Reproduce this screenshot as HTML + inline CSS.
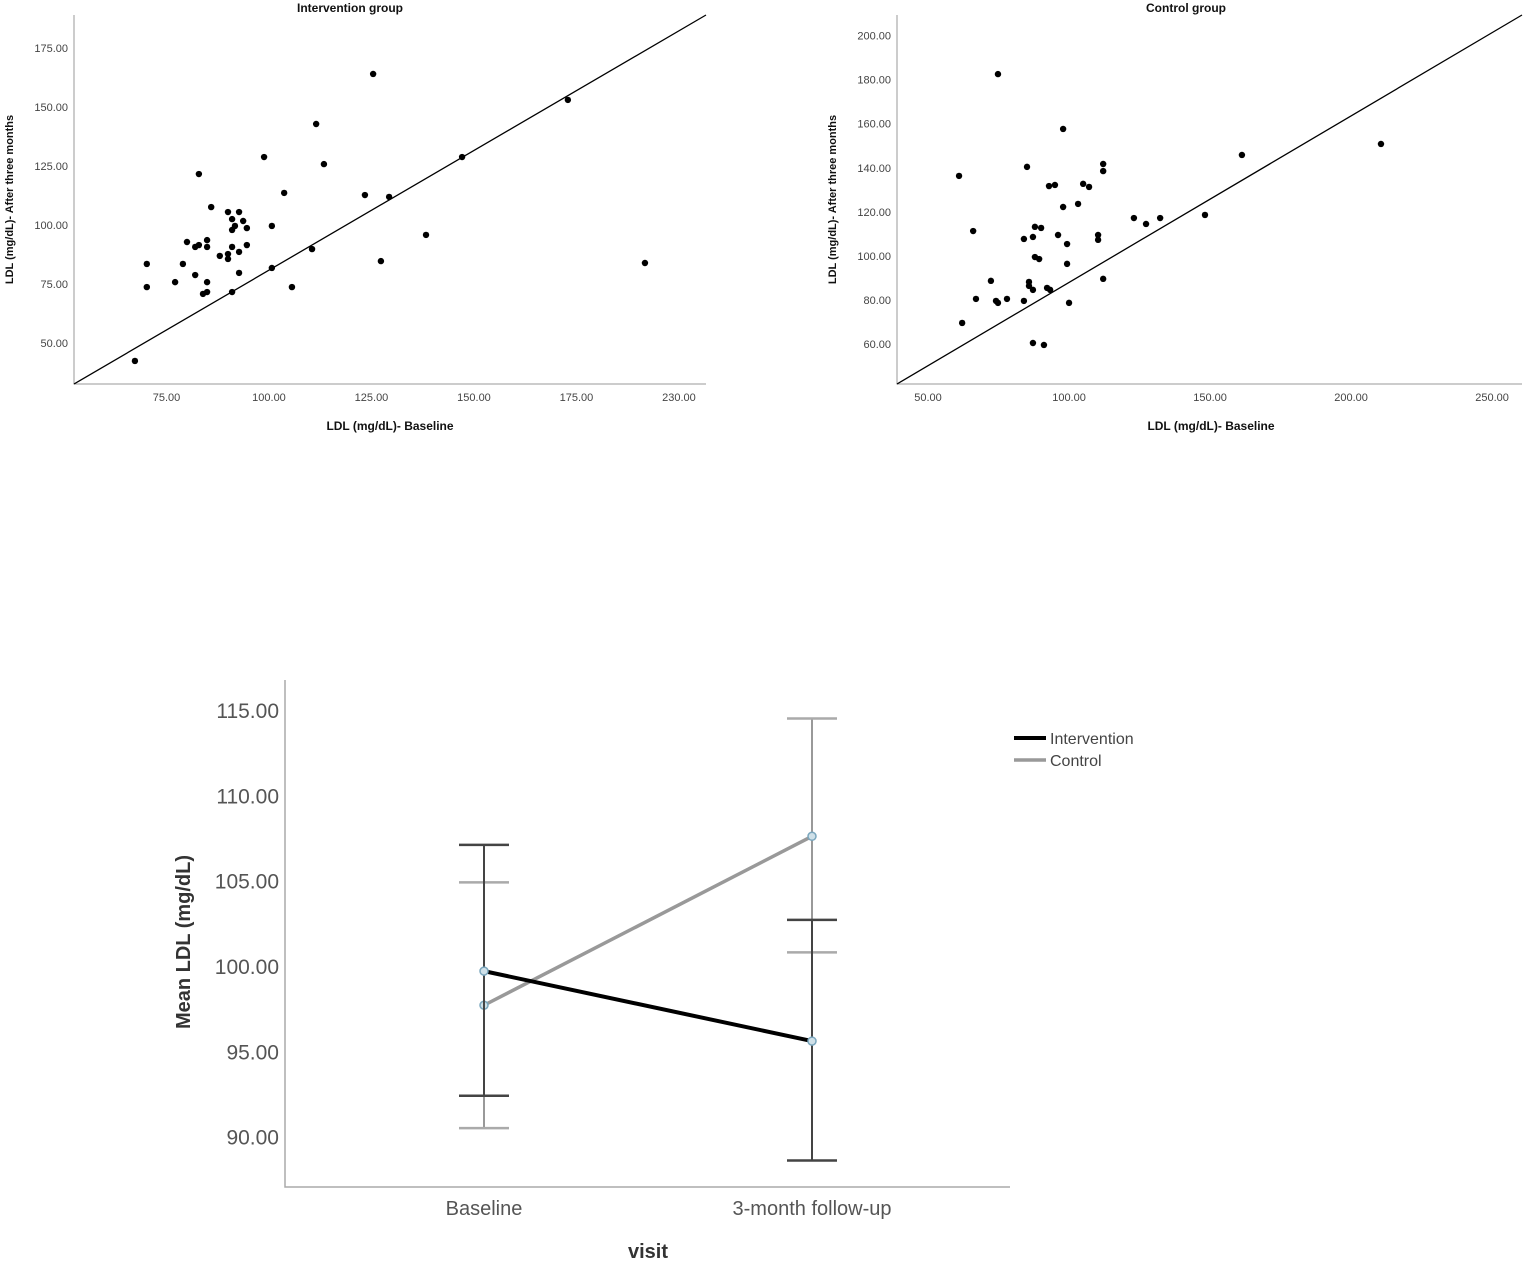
<!DOCTYPE html>
<html><head><meta charset="utf-8">
<style>
html,body{margin:0;padding:0;background:#fff;}
svg{display:block;font-family:"Liberation Sans",Arial,sans-serif;}
</style></head>
<body>
<svg id="chart" width="1535" height="1266" viewBox="0 0 1535 1266" xmlns="http://www.w3.org/2000/svg"></svg>
<script>
// ---------- Data ----------
const intBaseline = [70.2,70.2,77.1,79.0,80.0,82.0,82.9,84.9,84.9,82.9,85.9,82.0,83.9,84.9,84.9,88.0,90.0,90.0,90.0,91.0,91.7,91.0,92.7,93.7,94.6,91.0,92.7,94.6,92.7,91.0,100.7,98.8,100.7,103.7,105.6,110.5,111.5,113.4,125.4,123.4,129.3,127.3,138.3,147.1,67.3,172.9,191.7];
const intAfter    = [83.5,73.7,75.8,83.5,92.8,90.7,91.5,93.6,90.7,121.6,107.6,78.8,70.8,71.6,75.8,86.9,87.7,85.6,105.5,102.5,99.6,97.9,105.5,101.7,98.7,90.7,88.6,91.5,79.7,71.6,99.6,128.8,81.8,113.6,73.7,89.8,142.8,125.8,164.0,112.7,111.9,84.7,95.8,128.8,42.4,153.0,83.9];
const ctlBaseline = [74.8,97.9,61.0,85.1,112.1,112.1,92.9,95.0,105.0,107.1,97.9,103.2,123.0,127.3,132.3,148.2,66.0,87.9,90.1,84.0,87.2,96.1,99.3,110.3,110.3,87.9,89.4,99.3,112.1,72.3,85.8,85.8,87.2,92.2,93.3,67.0,74.1,74.8,78.0,84.0,100.0,62.1,87.2,91.1,161.3,210.6];
const ctlAfter    = [182.5,157.6,136.3,140.4,141.7,138.5,131.7,132.2,132.7,131.3,122.2,123.6,117.2,114.5,117.2,118.6,111.3,113.2,112.7,107.7,108.6,109.5,105.4,109.5,107.3,99.5,98.6,96.4,89.6,88.7,88.2,86.4,84.6,85.5,84.6,80.5,79.6,78.7,80.5,79.6,78.7,69.6,60.5,59.6,145.8,150.8];
const intTicksX = [75,100,125,150,175,200];
const intTickLabelsX = ["75.00","100.00","125.00","150.00","175.00","230.00"];
const intTicksY = [50,75,100,125,150,175];
const ctlTicksX = [50,100,150,200,250];
const ctlTicksY = [60,80,100,120,140,160,180,200];
const visits = ["Baseline","3-month follow-up"];
const intMeans = [99.7,95.6];
const intLow = [92.4,88.6];
const intHigh = [107.1,102.7];
const ctlMeans = [97.7,107.6];
const ctlLow = [90.5,100.8];
const ctlHigh = [104.9,114.5];
const meanTicks = [90,95,100,105,110,115];

const svg = document.getElementById('chart');
const NS = 'http://www.w3.org/2000/svg';
function el(tag, attrs, parent){
  const e = document.createElementNS(NS, tag);
  for (const k in attrs) e.setAttribute(k, attrs[k]);
  (parent||svg).appendChild(e);
  return e;
}
function txt(s, attrs, parent){ const t = el('text', attrs, parent); t.textContent = s; return t; }
function lin(d0,d1,r0,r1){ return v => r0 + (v-d0)*(r1-r0)/(d1-d0); }

function scatter(cfg){
  const g = el('g', {});
  
  
  const xs = lin(cfg.xd[0], cfg.xd[1], cfg.L, cfg.R);
  const ys = lin(cfg.yd[0], cfg.yd[1], cfg.B, cfg.T);
  const ax = el('path', {d:`M${cfg.L},${cfg.T} V${cfg.B} H${cfg.R}`, fill:'none', stroke:'#999', 'stroke-width':1}, g);
  
  
  cfg.ty.forEach(v => {
    const t = txt(v.toFixed(2), {x:cfg.L-6, y:ys(v)+4, 'text-anchor':'end', 'font-size':11, fill:'#444'}, g);
    
    
  });
  cfg.tx.forEach((v,i) => {
    const t = txt(cfg.txl ? cfg.txl[i] : v.toFixed(2), {x:xs(v), y:cfg.B+17, 'text-anchor':'middle', 'font-size':11, fill:'#444'}, g);
    
    
  });
  const ref = el('line', {x1:cfg.L, y1:cfg.B, x2:cfg.R, y2:cfg.T, stroke:'#000', 'stroke-width':1.3}, g);
  
  
  cfg.xv.forEach((v,i) => {
    const c = el('circle', {cx:xs(v), cy:ys(cfg.yv[i]), r:3.2, fill:'#000'}, g);
    
    
  });
  const ti = txt(cfg.title, {x:cfg.titleX, y:12, 'text-anchor':'middle', 'font-size':12, 'font-weight':'bold', fill:'#111'}, g);
  
  
  const xt = txt('LDL (mg/dL)- Baseline', {x:cfg.xtX, y:430, 'text-anchor':'middle', 'font-size':12, 'font-weight':'bold', fill:'#111'}, g);
  
  
  const yt = txt('LDL (mg/dL)- After three months', {x:0, y:0, 'text-anchor':'middle', 'font-size':11, 'font-weight':'bold', fill:'#111', transform:`translate(${cfg.ytX},${(cfg.T+cfg.B)/2}) rotate(-90)`}, g);
  
  
}

scatter({name:'intervention-scatter', L:74, R:706, T:15, B:384, xd:[100,125], yd:[100,125],
  title:'Intervention group', titleX:350, xtX:390, ytX:13,
  tx:intTicksX, txl:intTickLabelsX, ty:intTicksY, xv:intBaseline, yv:intAfter});
// fix scales via explicit mapping domain (px-based calibration)
svg.innerHTML = '';
scatter({name:'intervention-scatter', L:74, R:706, T:15, B:384, xd:[52.44,206.59], yd:[32.63,188.98],
  title:'Intervention group', titleX:350, xtX:390, ytX:13,
  tx:intTicksX, txl:intTickLabelsX, ty:intTicksY, xv:intBaseline, yv:intAfter});
scatter({name:'control-scatter', L:897, R:1522, T:15, B:384, xd:[39.0,260.6], yd:[41.9,209.3],
  title:'Control group', titleX:1186, xtX:1211, ytX:836,
  tx:ctlTicksX, ty:ctlTicksY, xv:ctlBaseline, yv:ctlAfter});

// ---------- Mean plot ----------
(function(){
  const g = el('g', {});
  
  
  const L=285, R=1010, T=680, B=1187;
  const ys = lin(100, 115, 966, 710);
  const xs = i => [484, 812][i];
  const ax = el('path', {d:`M${L},${T} V${B} H${R}`, fill:'none', stroke:'#aaa', 'stroke-width':1.5}, g);
  
  
  meanTicks.forEach(v => {
    const t = txt(v.toFixed(2), {x:L-6, y:ys(v)+8, 'text-anchor':'end', 'font-size':21, fill:'#555'}, g);
    
    
  });
  visits.forEach((v,i) => {
    const t = txt(v, {x:xs(i), y:1215, 'text-anchor':'middle', 'font-size':20, fill:'#555'}, g);
    
    
  });
  const xt = txt('visit', {x:648, y:1258, 'text-anchor':'middle', 'font-size':20, 'font-weight':'bold', fill:'#333'}, g);
  
  
  const yt = txt('Mean LDL (mg/dL)', {x:0, y:0, 'text-anchor':'middle', 'font-size':20, 'font-weight':'bold', fill:'#333', transform:`translate(190,942) rotate(-90)`}, g);
  
  

  function series(name, means, lo, hi, lineCol, barCol, capCol, w){
    visits.forEach((v,i) => {
      const x = xs(i);
      const b = el('line', {x1:x, y1:ys(lo[i]), x2:x, y2:ys(hi[i]), stroke:barCol, 'stroke-width':2}, g);
      
      
      [lo[i], hi[i]].forEach(c => {
        const cp = el('line', {x1:x-25, y1:ys(c), x2:x+25, y2:ys(c), stroke:capCol, 'stroke-width':2.5}, g);
        
        
      });
    });
    const l = el('polyline', {points: means.map((m,i)=>`${xs(i)},${ys(m)}`).join(' '), fill:'none', stroke:lineCol, 'stroke-width':w}, g);
    
    
    means.forEach((m,i) => {
      const c = el('circle', {cx:xs(i), cy:ys(m), r:4, fill:'#cfe0e8', stroke:'#7aa6bd', 'stroke-width':1.5}, g);
      
      
    });
  }
  series('control', ctlMeans, ctlLow, ctlHigh, '#999', '#999', '#aaa', 3.5);
  series('intervention', intMeans, intLow, intHigh, '#000', '#444', '#444', 4);

  const lg = el('g', {}, g);
  
  
  el('line', {x1:1014, y1:738, x2:1046, y2:738, stroke:'#000', 'stroke-width':4}, lg);
  const t1 = txt('Intervention', {x:1050, y:744, 'font-size':16, fill:'#444'}, lg);
  
  
  el('line', {x1:1014, y1:760, x2:1046, y2:760, stroke:'#999', 'stroke-width':3.5}, lg);
  const t2 = txt('Control', {x:1050, y:766, 'font-size':16, fill:'#444'}, lg);
  
  
})();
</script>
</body></html>
